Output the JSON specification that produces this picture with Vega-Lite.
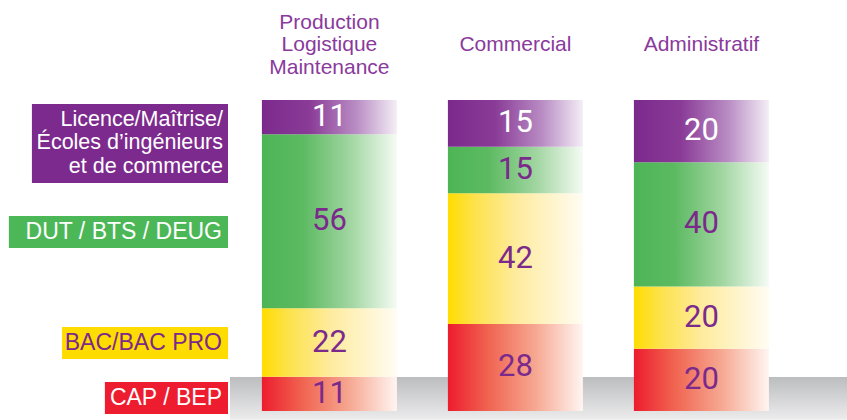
{
  "$schema": "https://vega.github.io/schema/vega-lite/v6.json",
  "padding": {"left": 0, "top": 11, "right": 0, "bottom": 0},
  "spacing": 2,
  "config": {
    "view": {"stroke": null},
    "axisQuantitative": {"disable": true},
    "font": "Liberation Sans"
  },
  "hconcat": [
    {
      "width": 228,
      "height": 311,
      "data": {"values": [
        {"level": "Licence", "label": "Licence/Maîtrise/|Écoles d’ingénieurs|et de commerce"},
        {"level": "DUT", "label": "DUT / BTS / DEUG"},
        {"level": "BAC", "label": "BAC/BAC PRO"},
        {"level": "CAP", "label": "CAP / BEP"}
      ]},
      "layer": [
        {
          "transform": [{"filter": "datum.level === 'Licence'"}],
          "layer": [
            {"mark": {"type": "rect", "fill": "#7d2a8e"},
             "encoding": {
               "x": {"datum": 14, "type": "quantitative", "scale": {"domain": [0, 100], "nice": false, "zero": false}},
               "x2": {"datum": 100},
               "y": {"datum": 98.7, "type": "quantitative", "scale": {"domain": [0, 100], "nice": false, "zero": false}},
               "y2": {"datum": 73.3}}},
            {"mark": {"type": "text", "align": "right", "baseline": "middle", "dx": -5, "fontSize": 21.5, "lineHeight": 23.5, "lineBreak": "|", "fill": "white"},
             "encoding": {"x": {"datum": 100, "type": "quantitative"}, "y": {"datum": 93.6, "type": "quantitative"}, "text": {"field": "label"}}}
          ]
        },
        {
          "transform": [{"filter": "datum.level === 'DUT'"}],
          "layer": [
            {"mark": {"type": "rect", "fill": "#4cb757"},
             "encoding": {"x": {"datum": 3.9, "type": "quantitative"}, "x2": {"datum": 100}, "y": {"datum": 62.7, "type": "quantitative"}, "y2": {"datum": 52.4}}},
            {"mark": {"type": "text", "align": "right", "baseline": "middle", "dx": -6, "fontSize": 23, "fill": "white"},
             "encoding": {"x": {"datum": 100, "type": "quantitative"}, "y": {"datum": 57.6, "type": "quantitative"}, "text": {"field": "label"}}}
          ]
        },
        {
          "transform": [{"filter": "datum.level === 'BAC'"}],
          "layer": [
            {"mark": {"type": "rect", "fill": "#ffdc00"},
             "encoding": {"x": {"datum": 27.2, "type": "quantitative"}, "x2": {"datum": 100}, "y": {"datum": 27.0, "type": "quantitative"}, "y2": {"datum": 16.7}}},
            {"mark": {"type": "text", "align": "right", "baseline": "middle", "dx": -6, "fontSize": 23, "fill": "#7b2a8c"},
             "encoding": {"x": {"datum": 100, "type": "quantitative"}, "y": {"datum": 21.9, "type": "quantitative"}, "text": {"field": "label"}}}
          ]
        },
        {
          "transform": [{"filter": "datum.level === 'CAP'"}],
          "layer": [
            {"mark": {"type": "rect", "fill": "#ed1c2e"},
             "encoding": {"x": {"datum": 46, "type": "quantitative"}, "x2": {"datum": 100}, "y": {"datum": 9.3, "type": "quantitative"}, "y2": {"datum": -1}}},
            {"mark": {"type": "text", "align": "right", "baseline": "middle", "dx": -6, "fontSize": 23, "fill": "white"},
             "encoding": {"x": {"datum": 100, "type": "quantitative"}, "y": {"datum": 4.2, "type": "quantitative"}, "text": {"field": "label"}}}
          ]
        }
      ]
    },
    {
      "width": 617,
      "height": 311,
      "layer": [
        {
          "data": {"values": [{"element": "sol"}]},
          "mark": {"type": "rect", "clip": false, "fill": {"gradient": "linear", "x1": 0, "y1": 0, "x2": 0, "y2": 1, "stops": [{"offset": 0, "color": "#bcbdbf"}, {"offset": 1, "color": "#ececed"}]}},
          "encoding": {
            "y": {"datum": 10.9, "type": "quantitative", "scale": {"domain": [0, 100], "nice": false, "zero": false}},
            "y2": {"datum": -2.8}
          }
        },
        {
          "data": {"values": [
            {"sector": "Production\nLogistique\nMaintenance", "level": "CAP / BEP", "rank": 1, "value": 11},
            {"sector": "Production\nLogistique\nMaintenance", "level": "BAC/BAC PRO", "rank": 2, "value": 22},
            {"sector": "Production\nLogistique\nMaintenance", "level": "DUT / BTS / DEUG", "rank": 3, "value": 56},
            {"sector": "Production\nLogistique\nMaintenance", "level": "Licence/Maîtrise/Écoles d’ingénieurs et de commerce", "rank": 4, "value": 11},
            {"sector": "Commercial", "level": "CAP / BEP", "rank": 1, "value": 28},
            {"sector": "Commercial", "level": "BAC/BAC PRO", "rank": 2, "value": 42},
            {"sector": "Commercial", "level": "DUT / BTS / DEUG", "rank": 3, "value": 15},
            {"sector": "Commercial", "level": "Licence/Maîtrise/Écoles d’ingénieurs et de commerce", "rank": 4, "value": 15},
            {"sector": "Administratif", "level": "CAP / BEP", "rank": 1, "value": 20},
            {"sector": "Administratif", "level": "BAC/BAC PRO", "rank": 2, "value": 20},
            {"sector": "Administratif", "level": "DUT / BTS / DEUG", "rank": 3, "value": 40},
            {"sector": "Administratif", "level": "Licence/Maîtrise/Écoles d’ingénieurs et de commerce", "rank": 4, "value": 20}
          ]},
          "transform": [
            {"stack": "value", "groupby": ["sector"], "sort": [{"field": "rank", "order": "ascending"}], "as": ["y0", "y1"]},
            {"calculate": "(datum.y0 + datum.y1) / 2", "as": "mid"}
          ],
          "encoding": {
            "x": {
              "field": "sector", "type": "nominal", "sort": null,
              "scale": {"paddingInner": 0.2742, "paddingOuter": 0.2957, "align": 0.29},
              "axis": {
                "orient": "top", "title": null, "domain": false, "ticks": false, "tickSize": 0,
                "labelAngle": 0,
                "labelExpr": "indexof(datum.label, '\\n') >= 0 ? split(datum.label, '\\n') : ['', datum.label]",
                "labelFontSize": 21, "labelLineHeight": 22.5, "labelColor": "#8a3a9c",
                "labelBaseline": "middle", "labelPadding": 78, "labelFont": "Liberation Sans",
                "labelLimit": 0
              }
            }
          },
          "layer": [
            {
              "transform": [{"filter": "datum.rank === 1"}],
              "mark": {"type": "rect", "fill": {"gradient": "linear", "x1": 0, "y1": 0, "x2": 1, "y2": 0, "stops": [{"offset": 0, "color": "#ed1c2e"}, {"offset": 0.3, "color": "#f06450"}, {"offset": 0.65, "color": "#f6a892"}, {"offset": 1, "color": "#fff5f1"}]}},
              "encoding": {"y": {"field": "y1", "type": "quantitative"}, "y2": {"field": "y0"}}
            },
            {
              "transform": [{"filter": "datum.rank === 2"}],
              "mark": {"type": "rect", "fill": {"gradient": "linear", "x1": 0, "y1": 0, "x2": 1, "y2": 0, "stops": [{"offset": 0, "color": "#ffdc00"}, {"offset": 0.2, "color": "#fde24c"}, {"offset": 0.5, "color": "#feeb9c"}, {"offset": 1, "color": "#fffcf3"}]}},
              "encoding": {"y": {"field": "y1", "type": "quantitative"}, "y2": {"field": "y0"}}
            },
            {
              "transform": [{"filter": "datum.rank === 3"}],
              "mark": {"type": "rect", "fill": {"gradient": "linear", "x1": 0, "y1": 0, "x2": 1, "y2": 0, "stops": [{"offset": 0, "color": "#4db556"}, {"offset": 0.3, "color": "#5cba61"}, {"offset": 0.65, "color": "#a0d5a0"}, {"offset": 1, "color": "#f5fbf4"}]}},
              "encoding": {"y": {"field": "y1", "type": "quantitative"}, "y2": {"field": "y0"}}
            },
            {
              "transform": [{"filter": "datum.rank === 4"}],
              "mark": {"type": "rect", "fill": {"gradient": "linear", "x1": 0, "y1": 0, "x2": 1, "y2": 0, "stops": [{"offset": 0, "color": "#7b2a8c"}, {"offset": 0.35, "color": "#8a3b97"}, {"offset": 0.7, "color": "#b98dc4"}, {"offset": 1, "color": "#f4eef6"}]}},
              "encoding": {"y": {"field": "y1", "type": "quantitative"}, "y2": {"field": "y0"}}
            },
            {
              "mark": {"type": "text", "font": "Roboto", "fontSize": 31, "baseline": "middle"},
              "encoding": {
                "y": {"field": "mid", "type": "quantitative"},
                "text": {"field": "value", "type": "quantitative"},
                "color": {"condition": {"test": "datum.rank === 4", "value": "white"}, "value": "#7b2a8c"}
              }
            }
          ]
        }
      ]
    }
  ]
}
